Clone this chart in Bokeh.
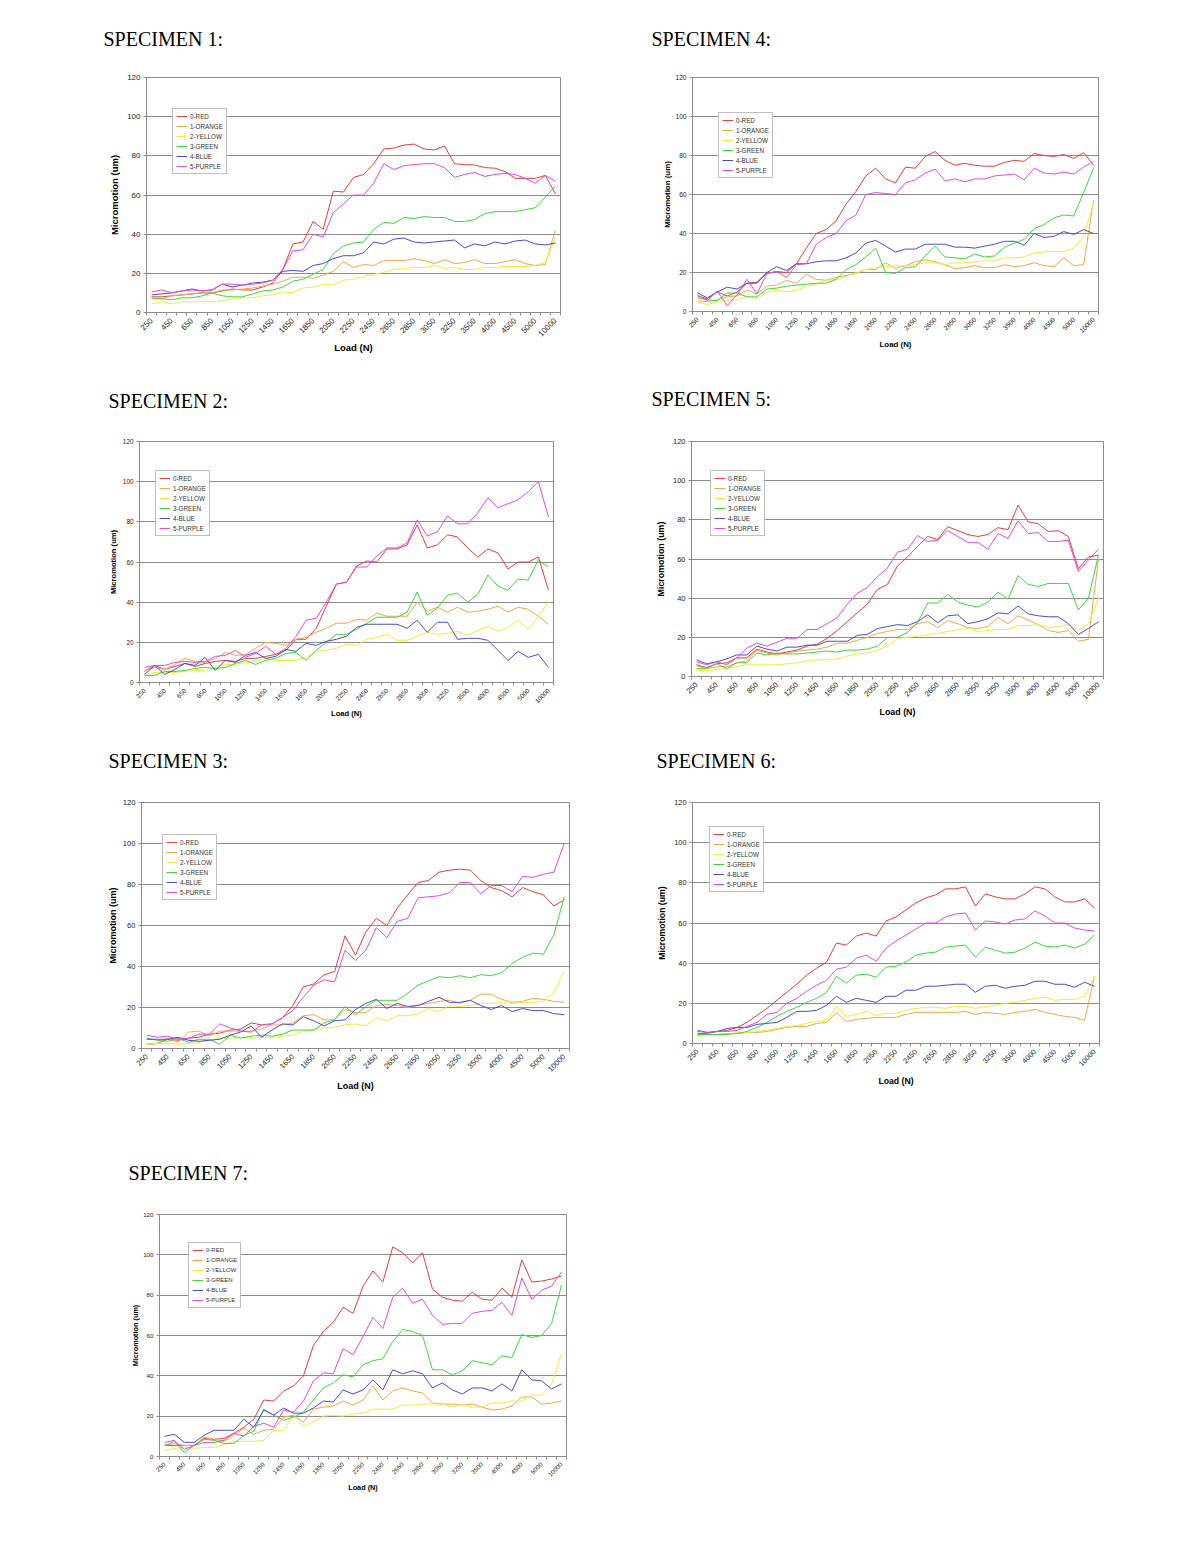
import math
from bokeh.plotting import figure
from bokeh.layouts import column, row
from bokeh.models import Range1d, FixedTicker, Legend, LegendItem, Title
from bokeh.embed import file_html
from bokeh.resources import INLINE

# ---------------- categories / labels ----------------
loads = ["250", "350", "450", "550", "650", "750", "850", "950", "1050", "1150",
         "1250", "1350", "1450", "1550", "1650", "1750", "1850", "1950", "2050", "2150",
         "2250", "2350", "2450", "2550", "2650", "2750", "2850", "2950", "3050", "3150",
         "3250", "3350", "3500", "3750", "4000", "4250", "4500", "4750", "5000", "7500",
         "10000"]
series_names = ["0-RED", "1-ORANGE", "2-YELLOW", "3-GREEN", "4-BLUE", "5-PURPLE"]
series_colors = ["#ee3b3b", "#f4a64a", "#eeee3a", "#3dd83d", "#4a4ad6", "#e44ae4"]
y_ticks = [0, 20, 40, 60, 80, 100, 120]

# ---------------- SPECIMEN 1 ----------------
s1_red = [8, 8, 8.5, 9, 9.5, 10, 10, 11, 12, 11.5, 11.5, 13, 15, 22, 35, 36, 46.5, 42.5, 62, 61.5,
          69, 70.5, 76, 83.5, 84, 85.5, 86, 83.5, 83, 85, 76, 75.5, 75.3, 74, 73.7, 72, 68.5, 68.5, 68.5, 70, 60.5]
s1_orange = [7.5, 7, 8.5, 9, 9.5, 10, 10, 11.5, 11.5, 12, 12.5, 13.5, 14.5, 16, 18, 18, 17.5, 19, 21, 26,
             23, 24.5, 24, 26.5, 26.5, 26.5, 27.5, 26.5, 25, 27, 25, 25.5, 27, 25, 25, 26, 27, 25, 24, 24.5, 42]
s1_yellow = [4.5, 5.5, 4.5, 5.5, 5.5, 5.5, 5.5, 6, 7, 7.5, 7.5, 8.5, 9, 10.5, 10, 12.5, 13, 14.5, 14, 16.5,
             17, 18.5, 19.5, 20.5, 22, 22.5, 23, 23, 24, 22.5, 23, 22, 22, 23, 23, 23.5, 23.5, 23.5, 24, 25.5, 38]
s1_green = [7, 7, 6.5, 7.5, 7.5, 8.5, 10, 8.5, 8, 8, 9.5, 11, 11.5, 13, 16, 17, 19.5, 22, 30, 34,
            35.5, 36, 42.5, 46, 45.5, 48.5, 48, 49, 48.5, 48.5, 46.5, 46.5, 47.5, 50.5, 51.5, 51.5, 51.5, 52.5, 53.5, 59, 64.5]
s1_blue = [9, 9.5, 10, 11, 12, 11, 11.5, 14.5, 13, 14, 15, 15.5, 16.5, 21, 21.5, 21, 24, 25, 27.5, 29,
           29, 30.5, 36, 35, 37.5, 38, 36, 35.5, 36, 36.5, 37, 33, 35, 34, 36, 35, 36.5, 37, 35, 34.5, 35.5]
s1_purple = [10.5, 11.5, 10, 11, 11.5, 11, 11.5, 14.5, 14.5, 14, 14.5, 15, 16.5, 22, 31.5, 32, 40, 38.5, 51, 55.5,
             60, 60, 66, 76, 73, 75, 75.5, 76, 76, 74, 69, 70.5, 71.5, 69.5, 70.5, 71, 70.5, 68.5, 66, 70, 67]

# ---------------- SPECIMEN 2 ----------------
s2_red = [5.5, 8.5, 6.5, 8, 9.5, 8, 9.5, 10.5, 11, 10.5, 12, 12, 13, 14, 16, 21.5, 21.5, 27, 38, 49,
          50, 58, 60.5, 60, 66.5, 66.5, 68.5, 78.5, 67, 68.5, 73.5, 72.5, 67, 62.5, 66.5, 64.5, 56.5, 60, 60, 62.5, 46]
s2_orange = [6, 7.5, 6.5, 9, 12, 10.5, 10, 12, 15, 13.5, 14, 17, 20, 19.5, 18.5, 21.5, 22.5, 25, 27, 29.5,
             29.5, 31.5, 31, 34.5, 33, 33, 33, 40, 35.5, 37.5, 35, 37.5, 35, 35.5, 36.5, 38, 35, 37.5, 36.5, 33, 29]
s2_yellow = [4, 5, 5, 5, 5.5, 6, 6, 7.5, 9, 9, 10, 10.5, 12, 11, 11, 11, 12.5, 15.5, 16, 17,
             19, 18.5, 21.5, 22.5, 24, 21, 21, 23, 25, 24, 24.5, 25.5, 23.5, 26, 28, 25.5, 27.5, 31, 26.5, 33, 40]
s2_green = [3.5, 3.5, 5.5, 5.5, 6, 7, 7.5, 7, 7.5, 9.5, 11, 9, 11, 12, 14.5, 15, 11, 16, 20, 24,
            24, 26.5, 29.5, 32.5, 32.5, 32.5, 35, 45, 33.5, 37, 43.5, 44.5, 40, 44, 53.5, 48, 46, 51.5, 51, 61, 57.5]
s2_blue = [4, 8.5, 4, 6.5, 9.5, 8.5, 12.5, 6, 11, 10, 13.5, 15, 12, 13, 16.5, 15.5, 19.5, 18.5, 20.5, 21.5,
           23, 27.5, 29, 29, 29, 29, 27, 31, 25, 30, 30, 21.5, 22, 22, 21, 16, 11, 15.5, 12.5, 14, 7.5]
s2_purple = [7.5, 8.5, 8.5, 10, 10.5, 10, 10.5, 13, 13.5, 16, 12.5, 14.5, 18, 14, 17, 23, 31, 32, 40, 49,
             50, 57.5, 57.5, 63, 67, 67, 69.5, 81, 73, 75, 83, 79, 79, 84.5, 92, 87, 89, 91, 95, 100, 82.5]

# ---------------- SPECIMEN 3 ----------------
s3_red = [2, 2.5, 4.5, 4, 5, 5.5, 7, 7.5, 9, 9.5, 12.5, 11.5, 12, 15, 21, 30, 31.5, 36, 37.5,
          55, 45.5, 57, 63.5, 60, 68.5, 75, 81, 82, 86, 87, 87.5, 87, 82, 78.5, 77, 74, 78.5, 76.5, 75, 69.5, 72.5]
s3_orange = [2, 2.5, 5, 3, 8, 8.5, 6, 8.5, 8.5, 8.5, 8.5, 9.5, 11.5, 11.5, 12.5, 16, 16.5, 14, 14,
             19, 17.5, 17.5, 21, 21.5, 21, 20, 21, 22, 23, 23.5,
             22, 23.5, 26.5, 26.5, 24, 22.5, 23, 24.5, 24, 23, 22.5]
s3_yellow = [2, 2.5, 2.5, 2, 2.5, 3, 4, 5, 5, 5.5, 5, 5.5, 5.5, 6, 6.5, 8.5, 9, 10, 10.5, 11.5,
             12, 11, 15, 13.5, 16, 16, 17, 19.5, 18, 21, 20.5, 21, 22, 22, 22.5, 22, 22.5, 22.5, 23, 27, 37.5]
s3_green = [5, 4, 3.5, 5, 3, 4.5, 4.5, 2, 6.5, 5, 6, 6.5, 6, 7, 9, 9, 9, 12.5, 14,
            20.5, 16.5, 20.5, 23.5, 23.5, 23.5, 27, 31, 33, 35, 34.5, 35.5, 34.5, 36, 35.5, 37, 41.5, 44.5, 46.5, 46, 55.5, 74]
s3_blue = [4.5, 4.5, 4.5, 5.5, 4, 3.5, 4, 4.5, 6.5, 8, 11, 5.5, 9, 12, 11.5, 15.5, 13.5, 11, 13.5, 14, 19,
           22, 24, 19.5, 22, 20.5, 21, 23, 25, 22.5, 22.5, 23.5, 21, 19, 21, 18, 19.5, 18.5, 18.5, 17, 16.5]
s3_purple = [6.5, 5.5, 6, 4.5, 5, 7, 7, 12, 10, 8.5, 8, 11.5, 12, 15, 18.5, 25, 31, 33.5, 32.5,
             48, 43, 48, 59, 54, 62, 63.5, 73.5, 74, 74.5, 76, 81, 81, 75.5, 79.5, 79.5, 76.5, 84, 83.5, 85, 86, 100]

# ---------------- SPECIMEN 4 ----------------
s4_red = [8, 6.5, 10, 8, 10, 14.5, 15, 19.5, 20.5, 20, 24.5, 32.5, 40, 42, 46.5, 55, 61.5, 69.5, 73.5, 68,
          66, 74, 73.5, 79.5, 82, 77.5, 75, 76, 75, 74.5, 74.5, 76.5, 77.5, 77, 81, 80, 79.5, 80.5, 78.5, 81.5, 75]
s4_orange = [5.5, 5, 6, 7.5, 8, 11, 9, 13, 13.5, 16, 14.5, 19, 16.5, 16, 17.5, 18.5, 19.5, 21.5, 21.5, 25,
             22, 23.5, 25.5, 26.5, 25.5, 24, 22, 22.5, 23.5, 22.5, 22.5, 24, 23, 23.5, 25, 23.5, 23, 27.5, 23.5, 24, 57]
s4_yellow = [5, 3.5, 5, 6, 6, 8, 6.5, 10, 11, 10, 11, 13, 14, 16, 16.5, 18, 20, 21.5, 22.5, 23,
             23.5, 23.5, 24, 25, 25, 24, 25, 25, 25.5, 26, 26, 27.5, 27.5, 28, 30, 30.5, 31, 30.5, 32.5, 38.5, 56]
s4_green = [7, 6, 5.5, 9.5, 9.5, 7.5, 7.5, 11.5, 12, 13, 13.5, 14, 14.5, 14.5, 16.5, 21.5, 24, 28, 32.5, 20,
            19.5, 22.5, 23, 28.5, 33.5, 28, 27.5, 27, 29.5, 28, 28.5, 33, 35, 37, 42.5, 44.5, 48, 49.5, 49, 61, 73.5]
s4_blue = [9.5, 7, 10, 12.5, 11.5, 14.5, 14.5, 20, 23, 21, 24.5, 24.5, 25.5, 26, 26, 27.5, 30, 35, 36.5, 33.5,
           30.5, 32, 32, 34.5, 34.5, 34.5, 33, 33, 32.5, 33.5, 34.5, 36, 36, 34, 40, 38, 38.5, 41, 39.5, 42, 40]
s4_purple = [8.5, 5.5, 10.5, 3, 8.5, 16.5, 9, 19.5, 20.5, 17.5, 24, 24.5, 34.5, 38, 40, 46.5, 49.5, 60, 61, 60.5,
             60, 66, 67.5, 71, 73, 67, 68, 66.5, 68, 68, 69.5, 70, 70.5, 67.5, 73.5, 71, 70.5, 71.5, 70.5, 74, 77]

# ---------------- SPECIMEN 5 ----------------
s5_red = [6, 4.5, 6.5, 7, 9.5, 9.5, 14, 12.5, 11.5, 12.5, 13.5, 15.5, 16.5, 19.5, 23.5, 28, 32.5, 37, 44.5, 47,
          56.5, 61, 66.5, 71.5, 70, 76.5, 74.5, 72.5, 71.5, 72.5, 76, 75, 87.5, 79, 78, 74, 74.5, 71.5, 55, 61, 62]
s5_orange = [5.5, 4, 5, 5, 7, 8, 13.5, 12, 11, 12, 13, 13.5, 14, 15, 17, 17, 18.5, 20, 22, 23,
             24, 24, 27, 28, 25, 28.5, 27, 25, 24.5, 25.5, 30, 27, 31, 29, 26.5, 23.5, 22.5, 23.5, 18, 19, 60]
s5_yellow = [3, 3, 3.5, 4, 5, 6, 6, 6, 6, 6.5, 7, 8, 8.5, 8.5, 9, 10.5, 11.5, 12, 13.5, 15.5,
             19.5, 20, 20.5, 21.5, 22, 23, 24, 24.5, 23, 23.5, 24, 24, 26, 26, 26.5, 25, 25.5, 26.5, 23.5, 27, 40]
s5_green = [4, 4, 6.5, 4, 7, 7, 12, 11, 12, 11.5, 11.5, 12, 12.5, 13, 12.5, 13.5, 13.5, 14, 15.5, 20,
            20, 22.5, 27.5, 37.5, 37.5, 42, 38, 36.5, 35.5, 38, 43, 39.5, 51.5, 47, 46, 47.5, 47.5, 47.5, 34, 40, 62]
s5_blue = [8.5, 6.5, 7.5, 9, 11, 11, 15.5, 14, 13, 15, 15, 16, 16, 18, 18, 18, 21, 21.5, 24.5, 25.5,
           26.5, 26, 28, 31.5, 27.5, 31, 31.5, 27, 28, 29.5, 32.5, 32, 36, 32, 31, 30.5, 30.5, 27, 21.5, 24.5, 28]
s5_purple = [7.5, 6, 7.5, 6, 9.5, 14.5, 17, 15.5, 17.5, 19.5, 19.5, 24, 24, 27, 30, 37, 42.5, 45.5, 51, 55.5,
             63.5, 65, 72, 69, 69.5, 74.5, 71.5, 68.5, 68.5, 65, 73, 70.5, 79.5, 73, 73.5, 69, 69, 69.5, 53.5, 59.5, 65]

# ---------------- SPECIMEN 6 ----------------
s6_red = [5, 5, 6, 6.5, 8, 10.5, 14, 17.5, 21.5, 25.5, 29.5, 34, 37.5, 40.5, 50, 49, 53.5, 55, 53.5, 61,
          63, 66.5, 70, 72.5, 74, 77, 77, 78, 68.5, 74.5, 73, 72, 72, 74.5, 78, 77, 73, 70.5, 70.5, 72, 67.5]
s6_orange = [4, 4.5, 4.5, 5, 5, 5.5, 5.5, 6, 7, 8, 8.5, 8.5, 10, 10.5, 15.5, 11, 12, 12.5, 13, 13,
             13, 14.5, 15.5, 15.5, 15.5, 15.5, 15.5, 16, 14.5, 15.5, 15, 14.5, 15.5, 16, 17, 15.5, 14.5, 13.5, 13, 11.5, 33.5]
s6_yellow = [3.5, 4.5, 4.5, 4.5, 5.5, 5.5, 6, 6.5, 7.5, 8.5, 9, 10, 11, 11.5, 18.5, 13.5, 14.5, 16, 14, 15,
             15, 16.5, 17.5, 18, 18, 17.5, 18.5, 18.5, 17.5, 18.5, 19, 20, 20.5, 21.5, 22.5, 23, 21.5, 22, 22, 23.5, 33.5]
s6_green = [4.5, 4.5, 4.5, 4.5, 5, 6, 8, 10.5, 13.5, 16, 18, 20.5, 22.5, 25.5, 33.5, 30, 34, 34.5, 33, 38,
            38.5, 40.5, 44, 45, 45.5, 48, 48.5, 49, 43, 48, 46.5, 45, 45.5, 47.5, 50.5, 48.5, 48, 49, 47.5, 49.5, 54]
s6_blue = [6.5, 5.5, 6, 7.5, 8, 8, 9.5, 10, 10.5, 13, 16, 16, 16.5, 19, 23.5, 20.5, 22.5, 21.5, 20.5, 23.5,
           23.5, 26.5, 26.5, 28.5, 28.5, 29, 29.5, 29.5, 25.5, 28.5, 29, 27.5, 28.5, 29, 31, 31, 29.5, 29.5, 28, 30.5, 28.5]
s6_purple = [6, 5.5, 6, 6, 6.5, 8.5, 10.5, 14.5, 15.5, 20, 22.5, 26, 29, 31.5, 37, 38, 42.5, 44, 41, 47.5,
             51, 54, 57, 60, 60, 63, 64.5, 65, 56.5, 61, 60.5, 59.5, 61.5, 62, 66, 63.5, 60, 60, 57.5, 56.5, 56]

# ---------------- SPECIMEN 7 ----------------
s7_red = [5.5, 5.5, 5.5, 5.5, 9, 8.5, 9, 11.5, 14.5, 18.5,
          28, 27.5, 32.5, 35, 40, 55, 62, 66.5, 74, 71, 84.5, 92, 86.5, 104, 101, 96, 101, 83, 79, 77.5,
          77, 81.5, 78, 77.5, 83.5, 79, 97.5, 86.5, 87, 88, 89.5]
s7_orange = [5.5, 6.5, 5.5, 5.5, 9.5, 8.5, 7.5, 10.5, 14, 11, 13, 13.5, 19.5, 20.5, 17, 23.5, 24.5, 25, 27.5, 25.5,
             28, 35, 28, 32.5, 34, 32.5, 31.5, 26.5, 26, 26, 25.5, 26, 24.5, 23, 23.5, 25, 29.5, 29.5, 26, 26.5, 27.5]
s7_yellow = [3, 4, 4.5, 4, 4.5, 4.5, 6, 7.5, 7.5, 7.5, 8, 13, 13, 20, 15, 17, 20, 20.5, 20, 21,
             21.5, 23.5, 23.5, 23.5, 25.5, 25.5, 26, 26, 26, 24.5, 26, 24.5, 24.5, 26.5, 26.5, 27.5, 27.5, 30.5, 30.5, 36, 51]
s7_green = [5.5, 7.5, 2, 5.5, 8.5, 8, 6.5, 6.5, 10.5, 12.5,
            23.5, 20.5, 18, 19.5, 22, 28, 34, 36.5, 40.5, 39.5, 45.5, 47.5, 48.5, 57, 63, 62, 60, 43, 43, 40.5,
            42.5, 47.5, 46.5, 45.5, 50, 49, 60.5, 59, 60, 66, 85]
s7_blue = [10, 11, 7, 7, 10.5, 13, 13, 13,
           18.5, 14.5, 23, 20.5, 24, 21.5, 21.5, 24, 27.5, 27, 33, 31, 33, 38, 33, 43, 41, 42.5, 41, 34,
           36.5, 33, 31, 34, 34, 32.5, 36, 32.5, 43, 38, 37.5, 33.5, 36]
s7_purple = [7, 8, 3.5, 5.5, 7, 7, 8, 11.5, 10, 15, 16.5, 14.5, 23, 22, 27.5, 37.5, 41.5, 41, 53.5, 50.5,
             59.5, 69, 63.5, 79, 83.5, 76, 78, 70, 65.5, 66, 66, 71, 72, 72.5, 76.5, 70, 88.5, 78, 82.5, 84.5, 91.5]

specimens = {
    1: [s1_red, s1_orange, s1_yellow, s1_green, s1_blue, s1_purple],
    2: [s2_red, s2_orange, s2_yellow, s2_green, s2_blue, s2_purple],
    3: [s3_red, s3_orange, s3_yellow, s3_green, s3_blue, s3_purple],
    4: [s4_red, s4_orange, s4_yellow, s4_green, s4_blue, s4_purple],
    5: [s5_red, s5_orange, s5_yellow, s5_green, s5_blue, s5_purple],
    6: [s6_red, s6_orange, s6_yellow, s6_green, s6_blue, s6_purple],
    7: [s7_red, s7_orange, s7_yellow, s7_green, s7_blue, s7_purple],
}
for k, ser in specimens.items():
    for j, vals in enumerate(ser):
        assert len(vals) == len(loads), (k, j, len(vals))

# ---------------- layout (screen coordinates) ----------------
# frame (l, t, r, b), region (l, t, r, b), heading (x, baseline), legend box (l, t, r, b),
# font scale, y-label standoff, x-label standoff
layout_spec = {
    1: dict(frame=(146, 77, 560, 312), region=(0, 0, 600, 357), head=(103, 42), leg=(172, 108, 228, 174), s=1.0, yls=4, xls=0),
    4: dict(frame=(692, 77, 1098, 311), region=(600, 0, 1150, 357), head=(651, 42), leg=(718, 109, 769, 178), s=0.83, yls=0, xls=2),
    2: dict(frame=(139, 437, 553, 678), region=(0, 357, 600, 719), head=(108, 403), leg=(155, 462, 207, 532), s=0.8, yls=2, xls=0),
    5: dict(frame=(691, 441, 1103, 676), region=(600, 357, 1150, 719), head=(651, 405), leg=(710, 464, 763, 536), s=0.94, yls=4, xls=2),
    3: dict(frame=(141, 802, 569, 1048), region=(0, 719, 600, 1120), head=(108, 766), leg=(162, 830, 213, 900), s=0.95, yls=2, xls=4),
    6: dict(frame=(692, 802, 1099, 1043), region=(600, 719, 1150, 1120), head=(656, 767), leg=(709, 821, 761, 892), s=0.92, yls=4, xls=4),
    7: dict(frame=(159, 1214, 566, 1456), region=(0, 1120, 600, 1520), head=(128, 1179), leg=(188, 1241, 237, 1308), s=0.77, yls=0, xls=2),
}

GRID = "#8c8c8c"
FONT = "Liberation Sans"
HEAD_TH = 22.1      # text box height of the 20px serif heading
HEAD_ASC = 17.8     # ascent of the 20px serif heading


def make_chart(num):
    cfg = layout_spec[num]
    fl, ft, fr, fb = cfg["frame"]
    rl, rt, rr, rb = cfg["region"]
    s = cfg["s"]
    fs_tick = 8.0 * s
    fs_lab = 9.5 * s
    n = len(loads)
    p = figure(frame_width=fr - fl, frame_height=fb - ft, title=None,
               min_border_left=fl - rl, min_border_right=rr - fr,
               min_border_top=ft - rt, min_border_bottom=rb - fb,
               x_range=Range1d(-0.5, n - 0.5), y_range=Range1d(0, 120),
               output_backend="svg", toolbar_location=None, tools="")
    p.outline_line_color = GRID
    p.outline_line_width = 1
    p.background_fill_color = "white"
    p.border_fill_color = "white"

    # heading (title box sits on the frame; text placed from the top of that box)
    text_top = cfg["head"][1] - HEAD_ASC
    stand = 2 * (ft - 2 - HEAD_TH - text_top)
    stand = min(stand, (ft - rt) - 2 - HEAD_TH - 0.6)
    heading = Title(text="SPECIMEN %d:" % num, text_font="Liberation Serif",
                    text_font_size="20px", text_font_style="normal", text_color="black",
                    align="left", vertical_align="top",
                    offset=cfg["head"][0] - fl, standoff=stand)
    p.add_layout(heading, "above")

    # x axis (categorical labels every second category)
    xa = p.xaxis[0]
    xa.ticker = FixedTicker(ticks=list(range(0, n, 2)),
                            minor_ticks=[i - 0.5 for i in range(n + 1)])
    xa.major_label_overrides = {i: loads[i] for i in range(0, n, 2)}
    xa.major_label_orientation = math.pi / 4
    xa.major_tick_out = 0
    xa.major_tick_in = 0
    xa.minor_tick_out = 3
    xa.minor_tick_in = 0
    xa.minor_tick_line_color = GRID
    xa.axis_line_color = GRID
    xa.major_label_text_font = FONT
    xa.major_label_text_font_size = "%.1fpx" % fs_tick
    xa.major_label_text_color = "#222222"
    xa.major_label_standoff = 4
    xa.axis_label = "Load (N)"
    xa.axis_label_text_font = FONT
    xa.axis_label_text_font_size = "%.1fpx" % fs_lab
    xa.axis_label_text_font_style = "bold"
    xa.axis_label_text_color = "black"
    xa.axis_label_standoff = cfg["xls"]

    # y axis
    ya = p.yaxis[0]
    ya.ticker = FixedTicker(ticks=y_ticks, minor_ticks=[])
    ya.major_tick_out = 3
    ya.major_tick_in = 0
    ya.major_tick_line_color = GRID
    ya.minor_tick_out = 0
    ya.minor_tick_in = 0
    ya.axis_line_color = GRID
    ya.major_label_text_font = FONT
    ya.major_label_text_font_size = "%.1fpx" % fs_tick
    ya.major_label_text_color = "#222222"
    ya.major_label_standoff = 3
    ya.axis_label = "Micromotion (um)"
    ya.axis_label_text_font = FONT
    ya.axis_label_text_font_size = "%.1fpx" % fs_lab
    ya.axis_label_text_font_style = "bold"
    ya.axis_label_text_color = "black"
    ya.axis_label_standoff = cfg["yls"]

    p.xgrid.visible = False
    p.ygrid.grid_line_color = GRID
    p.ygrid.grid_line_width = 1

    xs = list(range(n))
    items = []
    for name, color, vals in zip(series_names, series_colors, specimens[num]):
        r = p.line(xs, vals, line_color=color, line_width=1)
        items.append(LegendItem(label=name, renderers=[r]))

    ll, lt, lr, lb = cfg["leg"]
    legend = Legend(items=items, location=(ll - fl, fb - lb))
    legend.label_text_font = FONT
    legend.label_text_font_size = "6.3px" if num != 7 else "6.0px"
    legend.label_text_color = "#333333"
    legend.glyph_width = 11
    legend.glyph_height = 8
    legend.label_height = 8
    legend.label_standoff = 3
    legend.spacing = 2
    legend.padding = 3
    legend.margin = 0
    legend.border_line_color = "#808080"
    legend.border_line_width = 1
    legend.background_fill_color = "white"
    legend.background_fill_alpha = 1.0
    p.add_layout(legend)
    return p


figs = {k: make_chart(k) for k in range(1, 8)}
page = column(row(figs[1], figs[4]),
              row(figs[2], figs[5]),
              row(figs[3], figs[6]),
              row(figs[7]))

with open("out.html", "w") as f:
    f.write(file_html(page, INLINE, title="Micromotion vs Load"))
